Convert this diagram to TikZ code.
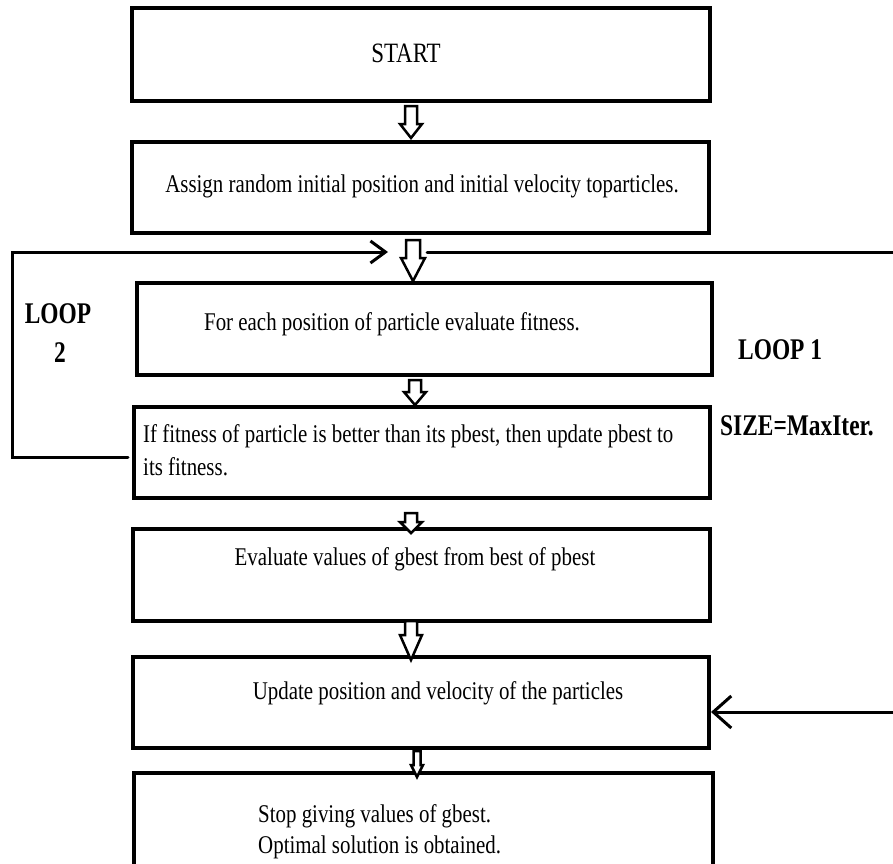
\documentclass[tikz,border=0pt]{standalone}
\usepackage{fontspec}
\setmainfont{Liberation Serif}[FakeStretch=0.82]
\newfontfamily\lblfont{Liberation Serif}[FakeStretch=0.78]
\usetikzlibrary{arrows.meta}
\newcommand\hollowarrow[6]{%
  \draw[harrow] ({#1-#5},#2) -- ({#1+#5},#2) -- ({#1+#5},#3) -- ({#1+#6},#3)
    -- (#1,#4) -- ({#1-#6},#3) -- ({#1-#5},#3) -- cycle;}
\begin{document}
\begin{tikzpicture}[x=1pt,y=-1pt,
  box/.style={draw=black, line width=4pt, fill=white, inner sep=0pt, outer sep=0pt},
  txt/.style={inner sep=0pt, anchor=base, font=\fontsize{25.5}{30}\selectfont},
  txtl/.style={txt, anchor=base west},
  lbl/.style={inner sep=0pt, font=\lblfont\bfseries\fontsize{30}{36}\selectfont},
  harrow/.style={draw=black, line width=2.5pt, fill=white, line join=miter},
  loopline/.style={draw=black, line width=3pt, line cap=round},
  barb/.style={-{Straight Barb[length=15pt,width=22pt]}},
  bigbarb/.style={-{Straight Barb[length=18pt,width=32pt]}}
]
\useasboundingbox (0,0) rectangle (893,863);
\fill[white] (0,0) rectangle (893,863);
\clip (0,0) rectangle (893,863);

% boxes
\node[box, minimum width=578pt, minimum height=93pt] (b1) at (421,54.5) {};
\node[box, minimum width=577pt, minimum height=91pt] (b2) at (420.5,187.5) {};
\node[box, minimum width=575pt, minimum height=92pt] (b3) at (424.5,329) {};
\node[box, minimum width=576pt, minimum height=91pt] (b4) at (422,452.5) {};
\node[box, minimum width=577pt, minimum height=92pt] (b5) at (421.5,575) {};
\node[box, minimum width=576pt, minimum height=91pt] (b6) at (421,702.5) {};
\node[box, minimum width=579pt, minimum height=97pt] (b7) at (423.5,821.5) {};

% texts
\node[txt, font=\fontsize{28}{32}\selectfont] (t1) at (406,62) {START};
\node[txt] (t2) at (422,192) {Assign random initial position and initial velocity toparticles.};
\node[txt] (t3) at (392,330) {For each position of particle evaluate fitness.};
\node[txtl] (t4a) at (143,442) {If fitness of particle is better than its pbest, then update pbest to};
\node[txtl] (t4b) at (143,475) {its fitness.};
\node[txt] (t5) at (415,565) {Evaluate values of gbest from best of pbest};
\node[txt] (t6) at (438,699) {Update position and velocity of the particles};
\node[txtl] (t7a) at (258,822) {Stop giving values of gbest.};
\node[txtl] (t7b) at (258,853) {Optimal solution is obtained.};

% labels
\node[lbl, anchor=base] (l2a) at (58,323) {LOOP};
\node[lbl, anchor=base] (l2b) at (60,362) {2};
\node[lbl, anchor=base west] (l1) at (738,359) {LOOP 1};
\node[lbl, anchor=base west] (sz) at (720,435) {SIZE=MaxIter.};

% loop lines
\coordinate (l2s) at (128,457);
\coordinate (l2c1) at (12,457);
\coordinate (l2c2) at (12,252);
\coordinate (l2e) at (388,252);
\draw[loopline, barb] (l2s) -- (l2c1) -- (l2c2) -- (l2e);
\coordinate (l1a) at (427,252);
\coordinate (l1b) at (895,252);
\draw[loopline] (l1a) -- (l1b);
\coordinate (l1c) at (895,712);
\coordinate (l1d) at (711,712);
\draw[loopline, bigbarb] (l1c) -- (l1d);

% hollow arrows between boxes
\hollowarrow{411}{106}{124}{138}{6}{11}
\hollowarrow{413}{240}{258}{281}{7}{12}
\hollowarrow{415}{380}{392}{405}{6}{11}
\hollowarrow{411}{513}{522}{533}{6}{11}
\hollowarrow{411}{621}{635}{660}{6}{11}
\hollowarrow{417}{751}{765}{777}{3.5}{6}
\end{tikzpicture}
\end{document}
